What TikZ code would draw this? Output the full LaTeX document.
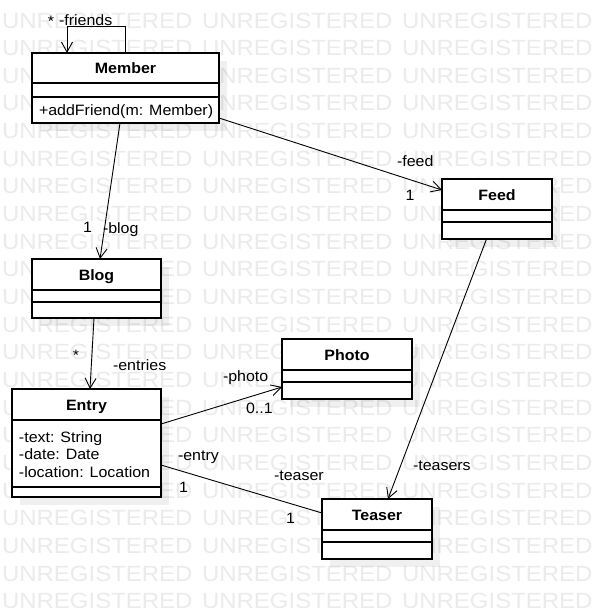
\documentclass[tikz,border=0pt]{standalone}
\usepackage{fontspec}
\setmainfont{Liberation Sans}
\usetikzlibrary{arrows.meta}

% text is set slightly widened, as in the exported class diagram
\newcommand\wx[1]{\scalebox{1.065}[1]{#1}}
\newcommand\wmx[1]{\scalebox{1.09}[1]{#1}}

\tikzset{
  classbox/.style={draw=black, fill=white, line width=1.1pt, inner sep=0pt, outer sep=0pt},
  divider/.style={draw=black, line width=1.1pt},
  boxshade/.style={fill=black, fill opacity=0.06},
  assoc/.style={draw=black, line width=0.9pt},
  navig/.style={assoc, -{Straight Barb[length=10pt,width=11pt,line width=0.9pt]}},
  lbl/.style={inner sep=0pt, outer sep=0pt, font=\fontsize{15}{17.5}\selectfont},
  titletext/.style={lbl},
  wmark/.style={inner sep=0pt, outer sep=0pt, text=black!8, font=\fontsize{22}{24}\selectfont},
}

% \umlclass{name}{x}{y}{width}{height}{first divider}{second divider}{title}
\newcommand\umlclass[8]{%
  \fill[boxshade] ({#2+8},{#3+8}) rectangle ({#2+#4+8},{#3+#5+8});
  \node[classbox, minimum width={#4pt}, minimum height={#5pt}, anchor=north west] (#1) at (#2,#3) {};
  \draw[divider] (#2,{#3+#6}) -- ++(#4,0) (#2,{#3+#7}) -- ++(#4,0);
  \node[titletext, anchor=base] (#1-title) at ({#2+#4/2},{#3+#6/2+5.5}) {\wx{\textbf{#8}}};
}

\begin{document}
\begin{tikzpicture}[x=1pt, y=-1pt]
  \useasboundingbox (0,0) rectangle (602,608);
  \fill[white] (0,0) rectangle (602,608);
  \clip (0,0) rectangle (602,608);

  % evaluation watermark
  \foreach \r in {0,...,21}{
    \foreach \c in {0,1,2}{
      \node[wmark, anchor=base west] (wm-\r-\c) at ({2+200*\c},{28+27.65*\r}) {\wmx{UNREGISTERED}};
    }
  }

  % classes
  \umlclass{member}{32}{53}{187}{70}{30}{44}{Member}
  \umlclass{feed}{442}{179}{110}{60}{31}{43}{Feed}
  \umlclass{blog}{32}{259}{129}{59}{31}{43}{Blog}
  \umlclass{entry}{12}{389}{149}{108}{31}{98}{Entry}
  \umlclass{photo}{282}{339}{130}{60}{31}{43}{Photo}
  \umlclass{teaser}{322}{499}{110}{60}{31}{43}{Teaser}

  % members
  \node[lbl, anchor=base west] (m-op) at (39,115) {\wx{+addFriend(m: Member)}};
  \node[lbl, anchor=base west] (e-a1) at (19,442) {\wx{-text: String}};
  \node[lbl, anchor=base west] (e-a2) at (19,459.5) {\wx{-date: Date}};
  \node[lbl, anchor=base west] (e-a3) at (19,477) {\wx{-location: Location}};

  % associations
  \draw[navig] ([xshift=-0.5pt]member.north) -- ++(0,-27) -| ([xshift=-58.5pt]member.north);
  \draw[navig] ([xshift=-5.5pt]member.south) -- ([xshift=3.5pt]blog.north);
  \draw[navig] ([yshift=-30pt]member.east) -- ([yshift=19pt]feed.west);
  \draw[navig] ([xshift=-2.5pt]blog.south) -- ([xshift=3.5pt]entry.north);
  \draw[navig] ([yshift=19pt]entry.east) -- ([yshift=-18pt]photo.west);
  \draw[navig] ([xshift=-10.5pt]feed.south) -- ([xshift=11pt]teaser.north);
  \draw[assoc] ([yshift=-22pt]entry.east) -- ([yshift=16pt]teaser.west);

  % role names and multiplicities
  \node[lbl] (l-fr-m) at (51,21.5) {\wx{*}};
  \node[lbl, anchor=base west] (l-fr) at (59,25) {\wx{-friends}};
  \node[lbl] (l-bl-m) at (87.5,227) {\wx{1}};
  \node[lbl, anchor=base west] (l-bl) at (103,233) {\wx{-blog}};
  \node[lbl, anchor=base west] (l-fd) at (397,166) {\wx{-feed}};
  \node[lbl] (l-fd-m) at (410,195.5) {\wx{1}};
  \node[lbl] (l-en-m) at (76,355) {\wx{*}};
  \node[lbl, anchor=base west] (l-en) at (113,370) {\wx{-entries}};
  \node[lbl, anchor=base west] (l-ph) at (223,381) {\wx{-photo}};
  \node[lbl, anchor=base west] (l-ph-m) at (246,413) {\wx{0..1}};
  \node[lbl, anchor=base west] (l-et) at (178,460) {\wx{-entry}};
  \node[lbl] (l-et-m) at (183.5,487) {\wx{1}};
  \node[lbl, anchor=base west] (l-ts) at (274,480) {\wx{-teaser}};
  \node[lbl] (l-ts-m) at (290.5,518.5) {\wx{1}};
  \node[lbl, anchor=base west] (l-tss) at (413,470) {\wx{-teasers}};
\end{tikzpicture}
\end{document}
